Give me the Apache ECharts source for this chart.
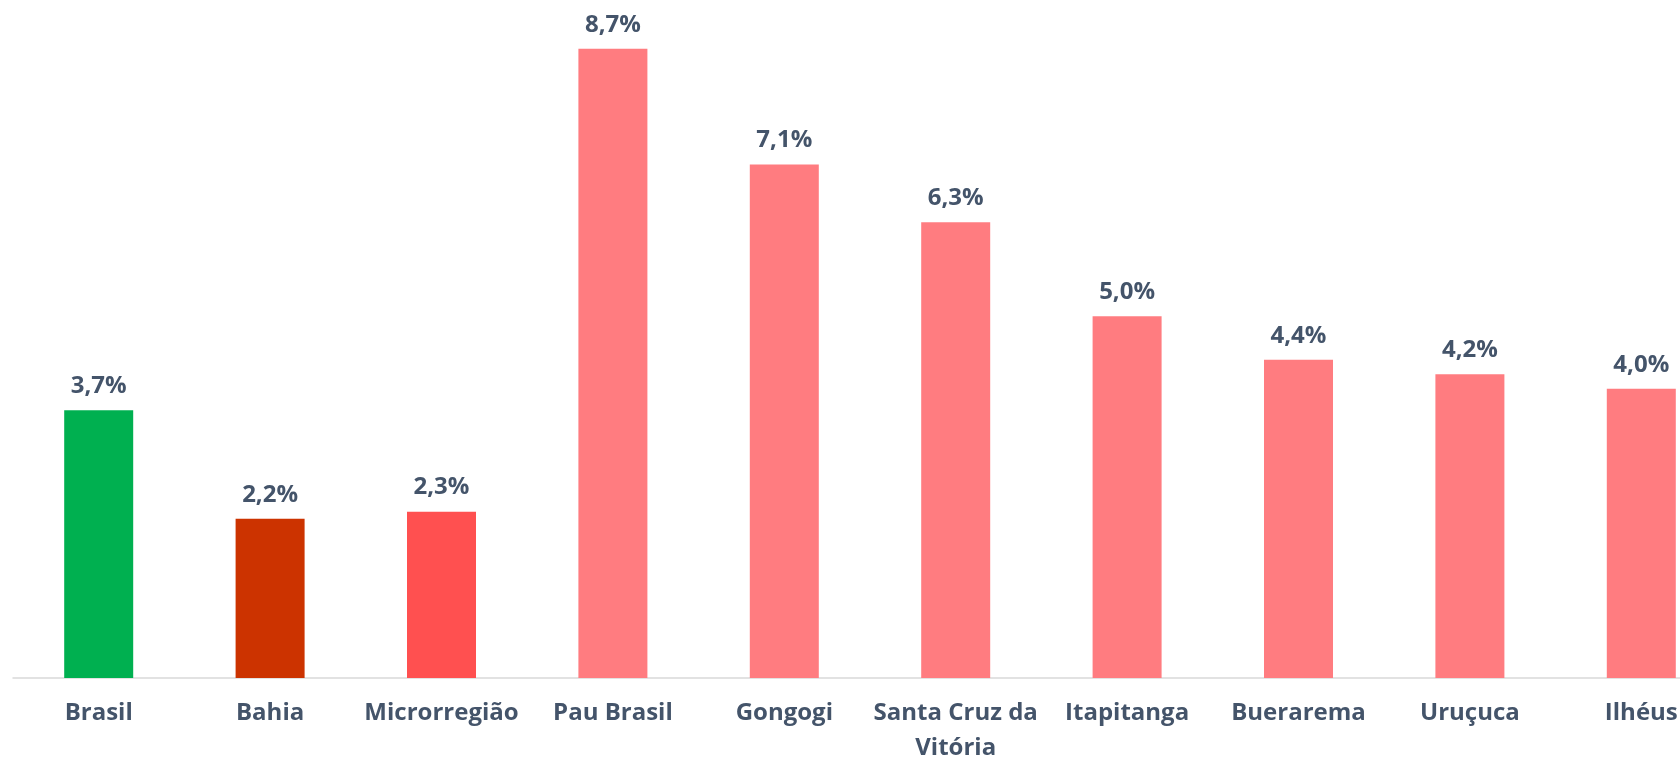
<!DOCTYPE html>
<html>
<head>
<meta charset="utf-8">
<script src="https://cdn.jsdelivr.net/npm/echarts@6/dist/echarts.min.js"></script>
<style>
    html, body { margin: 0; padding: 0; background: #fff; }
    #main { width: 1680px; height: 759px; }
</style>
</head>
<body>
<div id="main"></div>
<script>
    // categorias e valores (%)
    var categorias = ['Brasil', 'Bahia', 'Microrregião', 'Pau Brasil', 'Gongogi',
        'Santa Cruz da\nVitória', 'Itapitanga', 'Buerarema', 'Uruçuca', 'Ilhéus'];
    var valores = [3.7, 2.2, 2.3, 8.7, 7.1, 6.3, 5.0, 4.4, 4.2, 4.0];
    var cores = ['#00B050', '#CC3300', '#FF5050', '#FF7C80', '#FF7C80',
        '#FF7C80', '#FF7C80', '#FF7C80', '#FF7C80', '#FF7C80'];

    var corTexto = '#44546A';
    var fonte = '"Open Sans", sans-serif';

    var dados = [];
    for (var i = 0; i < valores.length; i++) {
        dados.push({ value: valores[i], itemStyle: { color: cores[i] } });
    }

    var myChart = echarts.init(document.getElementById('main'));
    var option = {
        animation: false,
        grid: {
            left: 13, top: 27, bottom: 81, width: 1714,
            containLabel: false,
            outerBoundsMode: 'none'   // o gráfico original é cortado à direita
        },
        xAxis: {
            type: 'category',
            data: categorias,
            axisLine: { lineStyle: { color: '#D9D9D9', width: 1.5 } },
            axisTick: { show: false },
            axisLabel: {
                interval: 0,
                margin: 18,
                color: corTexto,
                fontFamily: fonte,
                fontWeight: 'bold',
                fontSize: 24,
                lineHeight: 35
            }
        },
        yAxis: {
            type: 'value',
            min: 0,
            max: 9,
            show: false,
            splitLine: { show: false }
        },
        series: [
            {
                type: 'bar',
                data: dados,
                barWidth: 69,
                label: {
                    show: true,
                    position: 'top',
                    distance: 12,
                    color: corTexto,
                    fontFamily: fonte,
                    fontWeight: 'bold',
                    fontSize: 24,
                    lineHeight: 24,
                    formatter: function (p) {
                        return p.value.toFixed(1).replace('.', ',') + '%';
                    }
                }
            }
        ]
    };
    myChart.setOption(option);
</script>
</body>
</html>
